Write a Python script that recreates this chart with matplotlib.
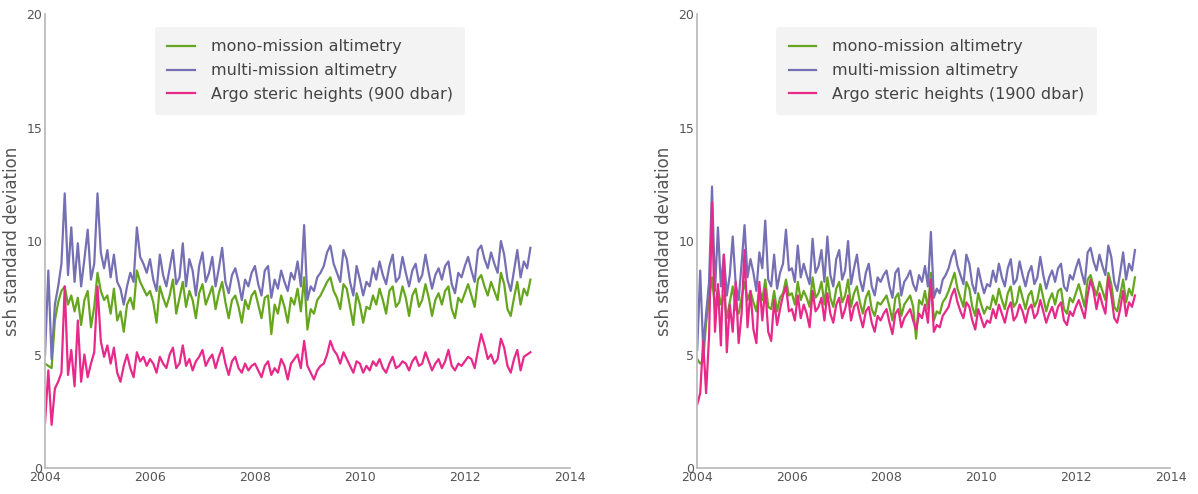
import numpy as np
import matplotlib
matplotlib.use("Agg")
from matplotlib import pyplot

# sample times: 16 samples per year, Jan 2004 to spring 2013
t = 2004 + np.arange(149) / 16.0

# 900 dbar panel
mono_900 = [
    4.6, 4.5, 4.4, 6.5, 7.3, 7.8, 8.0, 7.2, 7.6, 6.9, 7.5, 6.3, 7.4, 7.8, 6.2, 7.1,
    8.6, 7.8, 7.4, 7.6, 6.8, 7.9, 6.5, 6.9, 6.0, 7.2, 7.5, 7.0, 8.7, 8.2, 7.9, 7.6,
    7.8, 7.3, 6.4, 8.0, 7.5, 7.1, 7.6, 8.3, 6.8, 7.5, 8.2, 7.1, 7.8, 7.4, 6.6, 7.7,
    8.1, 7.2, 7.6, 8.0, 7.0, 7.7, 8.2, 7.3, 6.6, 7.4, 7.6, 7.1, 6.4, 7.4, 7.0, 7.6,
    7.8, 7.2, 6.6, 7.5, 7.6, 5.9, 7.2, 6.8, 7.6, 7.1, 6.4, 7.5, 7.2, 7.9, 6.9, 8.4,
    6.1, 7.0, 6.8, 7.4, 7.6, 7.9, 8.2, 8.4, 7.8, 7.5, 7.0, 8.1, 7.9, 7.1, 6.3, 7.7,
    7.2, 6.4, 7.1, 7.0, 7.6, 7.2, 7.9, 7.4, 6.8, 7.8, 8.0, 7.1, 7.3, 8.0, 7.5, 6.7,
    7.6, 7.9, 7.1, 7.4, 8.1, 7.5, 6.7, 7.4, 7.7, 7.2, 7.8, 8.0, 7.0, 6.6, 7.5, 7.3,
    7.7, 8.1, 7.6, 7.1, 8.3, 8.5, 8.0, 7.6, 8.2, 7.8, 7.4, 8.6, 8.1, 7.0, 6.7, 7.5,
    8.2, 7.2, 7.9, 7.6, 8.3,
]
multi_900 = [
    5.0, 8.7, 4.8, 7.2, 8.0, 9.0, 12.1, 8.5, 10.6, 8.2, 9.9, 8.0, 9.2, 10.5, 8.3, 9.0,
    12.1, 9.5, 8.8, 9.6, 8.4, 9.4, 8.2, 7.9, 7.2, 8.0, 8.6, 8.2, 10.6, 9.3, 9.0, 8.6,
    9.2, 8.3, 7.8, 9.4, 8.5, 8.0, 8.8, 9.6, 8.1, 8.4, 9.9, 8.0, 9.2, 8.7, 7.6, 8.9,
    9.5, 8.2, 8.6, 9.3, 8.0, 8.8, 9.7, 8.2, 7.7, 8.5, 8.8, 8.2, 7.4, 8.3, 8.0, 8.6,
    8.9, 8.1, 7.6, 8.7, 8.9, 7.5, 8.3, 7.9, 8.7, 8.2, 7.8, 8.6, 8.3, 9.1, 8.0, 10.7,
    7.4, 8.0, 7.8, 8.4, 8.6, 8.9, 9.5, 9.8, 9.0, 8.6, 8.2, 9.6, 9.2, 8.2, 7.6, 8.9,
    8.3, 7.6, 8.2, 8.0, 8.8, 8.3, 9.1, 8.5, 8.1, 8.9, 9.4, 8.2, 8.4, 9.3, 8.6, 8.0,
    8.7, 9.0, 8.2, 8.5, 9.4, 8.6, 7.9, 8.5, 8.8, 8.3, 8.9, 9.1, 8.1, 7.7, 8.6, 8.4,
    8.9, 9.3, 8.7, 8.2, 9.6, 9.8, 9.2, 8.8, 9.5, 9.0, 8.6, 10.0, 9.4, 8.3, 7.8, 8.7,
    9.6, 8.4, 9.1, 8.8, 9.7,
]
argo_900 = [
    2.0, 4.3, 1.9, 3.5, 3.8, 4.2, 8.0, 4.1, 5.2, 3.6, 6.5, 3.8, 5.0, 4.0, 4.6, 5.1,
    8.0, 5.6, 4.9, 5.4, 4.6, 5.3, 4.2, 3.8, 4.5, 5.0, 4.4, 4.0, 5.1, 4.7, 4.9, 4.5,
    4.8, 4.6, 4.2, 4.9, 4.6, 4.4, 5.0, 5.3, 4.4, 4.6, 5.4, 4.5, 4.8, 4.3, 4.7, 4.9,
    5.2, 4.5, 4.8, 5.0, 4.4, 4.9, 5.3, 4.6, 4.1, 4.7, 4.9, 4.4, 4.2, 4.6, 4.3, 4.5,
    4.6, 4.3, 4.0, 4.5, 4.7, 4.1, 4.4, 4.2, 4.8, 4.5, 3.9, 4.6, 4.8, 5.0, 4.4, 5.6,
    4.5, 4.2, 3.9, 4.3, 4.5, 4.6, 5.0, 5.6, 5.2, 5.0, 4.6, 5.1, 4.8, 4.5, 4.2, 4.7,
    4.6, 4.2, 4.5, 4.3, 4.7, 4.5, 4.8, 4.4, 4.2, 4.6, 4.9, 4.4, 4.5, 4.7, 4.6, 4.3,
    4.7, 4.9, 4.5, 4.6, 5.1, 4.7, 4.3, 4.6, 4.8, 4.4, 4.7, 5.2, 4.5, 4.3, 4.6, 4.5,
    4.7, 4.9, 4.8, 4.4, 5.2, 5.9, 5.4, 4.8, 5.0, 4.6, 4.8, 5.7, 5.3, 4.5, 4.2, 4.8,
    5.2, 4.3, 4.9, 5.0, 5.1,
]

# 1900 dbar panel
mono_1900 = [
    4.8, 4.6, 4.7, 6.4, 7.4, 8.4, 7.0, 7.9, 7.2, 7.6, 6.6, 7.3, 8.0, 7.0, 6.8, 7.5,
    8.2, 7.4, 7.8, 7.3, 6.9, 7.9, 7.4, 8.3, 7.1, 7.0, 7.8, 6.9, 7.5, 7.7, 8.3, 7.6,
    7.7, 7.2, 8.2, 7.4, 7.8, 7.5, 7.1, 8.4, 7.5, 7.7, 8.2, 7.2, 8.4, 7.5, 7.1, 7.9,
    8.2, 7.3, 7.6, 8.3, 7.1, 7.7, 8.0, 7.3, 6.8, 7.5, 7.8, 7.0, 6.7, 7.3, 7.2, 7.4,
    7.6, 7.1, 6.5, 7.5, 7.7, 6.7, 7.2, 7.4, 7.6, 7.1, 5.7, 7.4, 7.2, 7.8, 7.0, 8.6,
    6.5, 6.9, 6.8, 7.3, 7.5, 7.8, 8.2, 8.6, 7.9, 7.5, 7.1, 8.2, 7.9, 7.1, 6.7, 7.7,
    7.2, 6.8, 7.1, 7.0, 7.6, 7.2, 7.9, 7.4, 7.0, 7.7, 8.0, 7.1, 7.3, 8.0, 7.5, 7.0,
    7.6, 7.8, 7.1, 7.4, 8.1, 7.5, 6.9, 7.4, 7.7, 7.2, 7.8, 7.9, 7.0, 6.8, 7.5, 7.3,
    7.7, 8.1, 7.6, 7.1, 8.3, 8.5, 8.0, 7.6, 8.2, 7.8, 7.4, 8.6, 8.1, 7.1, 6.9, 7.6,
    8.3, 7.3, 7.9, 7.6, 8.4,
]
multi_1900 = [
    5.2, 8.7, 5.3, 6.8, 8.2, 12.4, 7.8, 10.6, 8.0, 9.4, 7.6, 8.5, 10.2, 8.1, 7.4, 9.0,
    10.7, 8.4, 9.2, 8.6, 7.8, 9.5, 8.8, 10.9, 8.3, 8.0, 9.4, 7.9, 8.6, 9.0, 10.5, 8.7,
    8.8, 8.2, 9.8, 8.4, 9.0, 8.5, 8.1, 10.1, 8.6, 8.9, 9.6, 8.2, 10.2, 8.5, 8.0, 9.2,
    9.6, 8.3, 8.7, 10.0, 8.1, 8.8, 9.4, 8.3, 7.8, 8.6, 9.0, 8.0, 7.6, 8.4, 8.2, 8.5,
    8.7, 8.0, 7.5, 8.6, 8.8, 7.6, 8.2, 8.4, 8.7, 8.1, 7.8, 8.5, 8.2, 8.9, 8.0, 10.4,
    7.5, 7.9, 7.7, 8.3, 8.5, 8.8, 9.3, 9.6, 8.9, 8.5, 8.1, 9.4, 9.0, 8.1, 7.7, 8.8,
    8.2, 7.7, 8.1, 8.0, 8.7, 8.2, 9.0, 8.4, 8.0, 8.8, 9.2, 8.1, 8.3, 9.1, 8.5, 8.0,
    8.6, 8.9, 8.1, 8.4, 9.3, 8.5, 7.9, 8.4, 8.7, 8.2, 8.8, 9.0, 8.0, 7.8, 8.5, 8.3,
    8.8, 9.2, 8.6, 8.1, 9.5, 9.7, 9.1, 8.7, 9.4, 8.9, 8.5, 9.8, 9.3, 8.2, 7.8, 8.6,
    9.5, 8.3, 9.0, 8.7, 9.6,
]
argo_1900 = [
    2.8, 3.3, 5.6, 3.3, 5.8, 11.7, 6.0, 8.1, 5.4, 9.4, 5.1, 7.2, 6.0, 8.2, 5.5, 6.8,
    9.6, 6.2, 7.8, 6.1, 5.5, 8.2, 6.5, 7.9, 6.0, 5.6, 7.4, 6.3, 7.0, 7.6, 8.0, 6.9,
    7.0, 6.5, 7.6, 6.6, 7.2, 6.8, 6.2, 7.8, 6.9, 7.1, 7.5, 6.5, 7.7, 6.8, 6.4, 7.2,
    7.5, 6.6, 7.0, 7.6, 6.5, 7.1, 7.3, 6.7, 6.2, 6.9, 7.1, 6.4, 6.0, 6.7, 6.5, 6.8,
    7.0, 6.4, 5.9, 6.8, 7.0, 6.2, 6.6, 6.8, 7.0, 6.5, 6.1, 6.8, 6.6, 7.2, 6.4, 8.3,
    6.0, 6.3, 6.2, 6.7, 6.9, 7.1, 7.6, 7.9, 7.3, 6.9, 6.6, 7.3, 7.1, 6.5, 6.1, 7.0,
    6.6, 6.2, 6.5, 6.4, 7.0, 6.6, 7.2, 6.8, 6.4, 7.0, 7.3, 6.5, 6.7, 7.2, 6.9, 6.4,
    7.0, 7.2, 6.6, 6.8, 7.4, 6.9, 6.4, 6.8, 7.1, 6.6, 7.1, 7.3, 6.5, 6.3, 6.9, 6.7,
    7.1, 7.4, 7.0, 6.6, 7.6, 8.3, 7.8, 7.0, 7.7, 7.2, 6.8, 8.4, 7.6, 6.6, 6.4, 7.0,
    7.8, 6.7, 7.3, 7.1, 7.6,
]

year_ticks = [2004, 2006, 2008, 2010, 2012, 2014]
ssh_ticks = [0, 5, 10, 15, 20]

GREEN = '#66a61e'
PURPLE = '#7570b3'
PINK = '#e7298a'
AXIS_GREY = '#bcbcbc'
LABEL_GREY = '#555555'


def draw_panel(axes, mono, multi, argo, depth):
    axes.plot(t, mono, color=GREEN, lw=1.6, label='mono-mission altimetry')
    axes.plot(t, multi, color=PURPLE, lw=1.6, label='multi-mission altimetry')
    axes.plot(t, argo, color=PINK, lw=1.6,
              label='Argo steric heights (%d dbar)' % depth)

    axes.set_xlim(2004, 2014)
    axes.set_ylim(0, 20)
    axes.set_xticks(year_ticks)
    axes.set_xticklabels([str(y) for y in year_ticks])
    axes.set_yticks(ssh_ticks)

    for side in ('top', 'right'):
        axes.spines[side].set_visible(False)
    for side in ('left', 'bottom'):
        axes.spines[side].set_color(AXIS_GREY)
        axes.spines[side].set_linewidth(1.3)
    axes.tick_params(length=0, labelsize=9, labelcolor=LABEL_GREY, pad=2)

    axes.set_ylabel('ssh standard deviation', fontsize=12, color=LABEL_GREY,
                    labelpad=4)

    leg = axes.legend(loc='upper center', bbox_to_anchor=(0.505, 0.99),
                      fontsize=11.5, frameon=True, handlelength=1.7,
                      labelspacing=0.55, borderpad=0.8, handletextpad=1.0)
    frame = leg.get_frame()
    frame.set_facecolor('#f3f3f3')
    frame.set_edgecolor('none')
    frame.set_alpha(1.0)
    for text in leg.get_texts():
        text.set_color('#444444')


fig = pyplot.figure(figsize=(11.98, 4.94), dpi=100)
left = fig.add_axes([0.0376, 0.0526, 0.438, 0.919])
right = fig.add_axes([0.582, 0.0526, 0.395, 0.919])

draw_panel(left, mono_900, multi_900, argo_900, 900)
draw_panel(right, mono_1900, multi_1900, argo_1900, 1900)

fig.savefig('out.png', dpi=100)
